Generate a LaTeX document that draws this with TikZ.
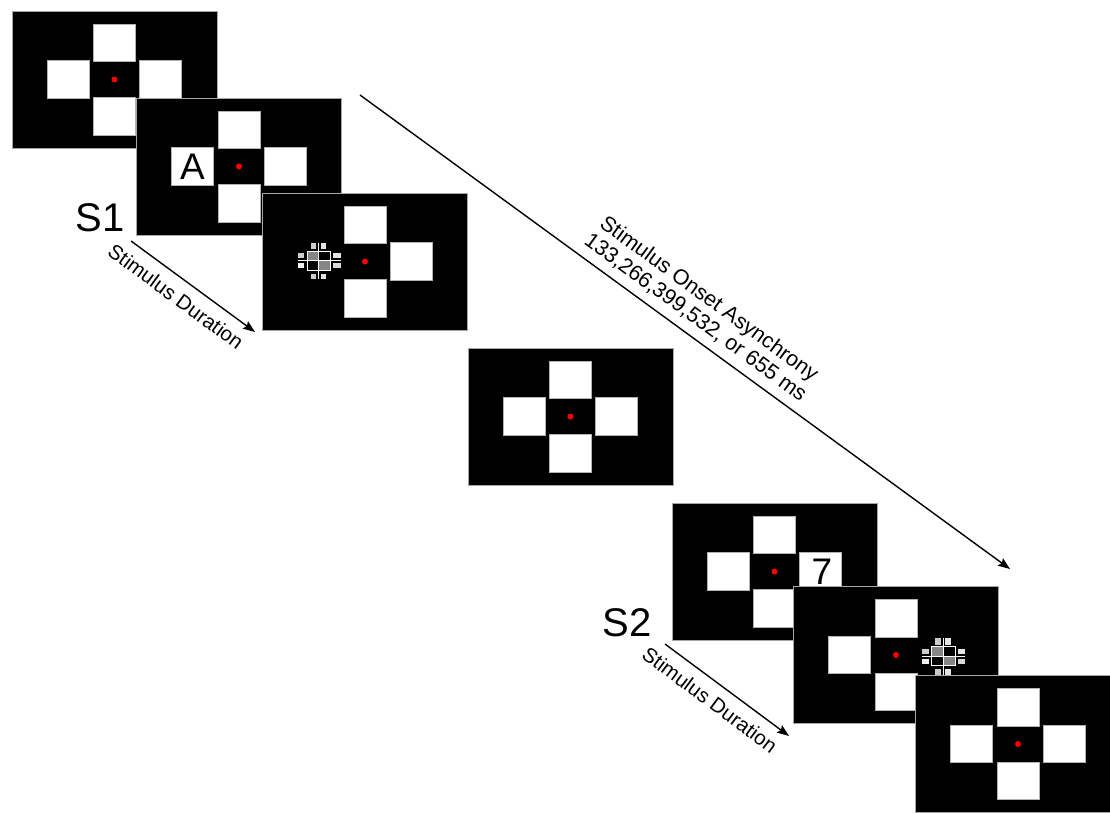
\documentclass[tikz,border=0pt]{standalone}
\usepackage{fontspec}
\setmainfont{Liberation Sans}
\usetikzlibrary{arrows.meta}
\begin{document}
\begin{tikzpicture}[x=1pt,y=-1pt,
  stimframe/.style={fill=black, draw=gray!70, line width=0.6pt, minimum width=205pt, minimum height=137pt, inner sep=0pt},
  sq/.style={fill=white, draw=gray!60, line width=0.6pt, minimum width=42pt, minimum height=37.5pt, inner sep=0pt},
  fixdot/.style={circle, fill=red, inner sep=0pt, minimum size=6pt},
  bigtext/.style={font=\fontsize{40}{40}\selectfont, inner sep=0pt},
  midtext/.style={font=\fontsize{37}{37}\selectfont, inner sep=0pt},
  arr/.style={line width=1.4pt, -{Stealth[length=12pt,width=9pt,inset=2pt]}},
  lbl/.style={font=\fontsize{20.5}{22}\selectfont, inner sep=0pt},
  soalbl/.style={font=\fontsize{21.5}{23}\selectfont, inner sep=0pt, align=center},
  maskline/.style={draw=white, line width=1pt},
  pics/disp/.style n args={2}{code={
    \node[stimframe] (-box) at (0,0) {};
    \node[sq] (-t) at (0,-36.5) {};
    \node[sq] (-b) at (0,37) {};
    \ifnum#1=1 \node[sq] (-l) at (-46.5,0) {};\fi
    \ifnum#2=1 \node[sq] (-r) at (46,0) {};\fi
    \node[fixdot] (-fix) at (0,0) {};
  }},
  pics/mask/.style={code={
    \fill[gray!95] (-11.5,-9.5) rectangle (0,0);
    \fill[black] (0,-9.5) rectangle (12,0);
    \fill[black] (-11.5,0) rectangle (0,9.5);
    \fill[gray!95] (0,0) rectangle (12,9.5);
    \draw[maskline] (-11.5,-9.5) rectangle (12,9.5);
    \draw[maskline] (-21,0) -- (22,0);
    \draw[maskline] (0,-18) -- (0,18.5);
    \fill[gray!40] (-8,-18) rectangle (-2.5,-11.5);
    \fill[gray!20] (2,-18) rectangle (7.5,-11.5);
    \fill[gray!40] (-8,13) rectangle (-2.5,18.5);
    \fill[gray!20] (2,13) rectangle (7.5,18.5);
    \fill[gray!40] (-21,-7.5) rectangle (-14.5,-2.5);
    \fill[gray!10] (-21,2.5) rectangle (-14.5,7.5);
    \fill[gray!20] (14.5,-7.5) rectangle (22,-2.5);
    \fill[gray!30] (14.5,2.5) rectangle (22,7.5);
  }}
]
\useasboundingbox (0,0) rectangle (1110,812);
\fill[white] (0,0) rectangle (1110,812);
\clip (0,0) rectangle (1110,812);

% first stimulus sequence
\pic (f1) at (114.5,79.5) {disp={1}{1}};
\pic (f2) at (239,166.5) {disp={1}{1}};
\node[midtext] (letterA) at (f2-l) {A};
\pic (f3) at (365,261.5) {disp={0}{1}};
\pic (m1) at (318.5,260.5) {mask};

% blank interval
\pic (f4) at (570.5,416.5) {disp={1}{1}};

% second stimulus sequence
\pic (f5) at (774.5,571.5) {disp={1}{1}};
\node[midtext] (digit7) at ([xshift=1.5pt]f5-r) {7};
\pic (f6) at (896,655) {disp={1}{0}};
\pic (m2) at (943,656) {mask};
\pic (f7) at (1018,744) {disp={1}{1}};

% labels
\node[bigtext] (s1) at (100,217.5) {S1};
\node[bigtext] (s2) at (627,622.5) {S2};

% stimulus duration arrows
\coordinate (d1s) at (131,241);
\coordinate (d1e) at (255,332);
\draw[arr] (d1s) -- (d1e) node[pos=0.45, sloped, below=10pt, lbl] (dur1) {Stimulus Duration};
\coordinate (d2s) at (665,644);
\coordinate (d2e) at (789,736);
\draw[arr] (d2s) -- (d2e) node[pos=0.45, sloped, below=10pt, lbl] (dur2) {Stimulus Duration};

% SOA arrow
\coordinate (soas) at (360,95);
\coordinate (soae) at (1010,569);
\draw[arr] (soas) -- (soae) node[pos=0.5, sloped, above=8pt, soalbl] (soa) {Stimulus Onset Asynchrony\\133,266,399,532, or 655 ms};
\end{tikzpicture}
\end{document}
